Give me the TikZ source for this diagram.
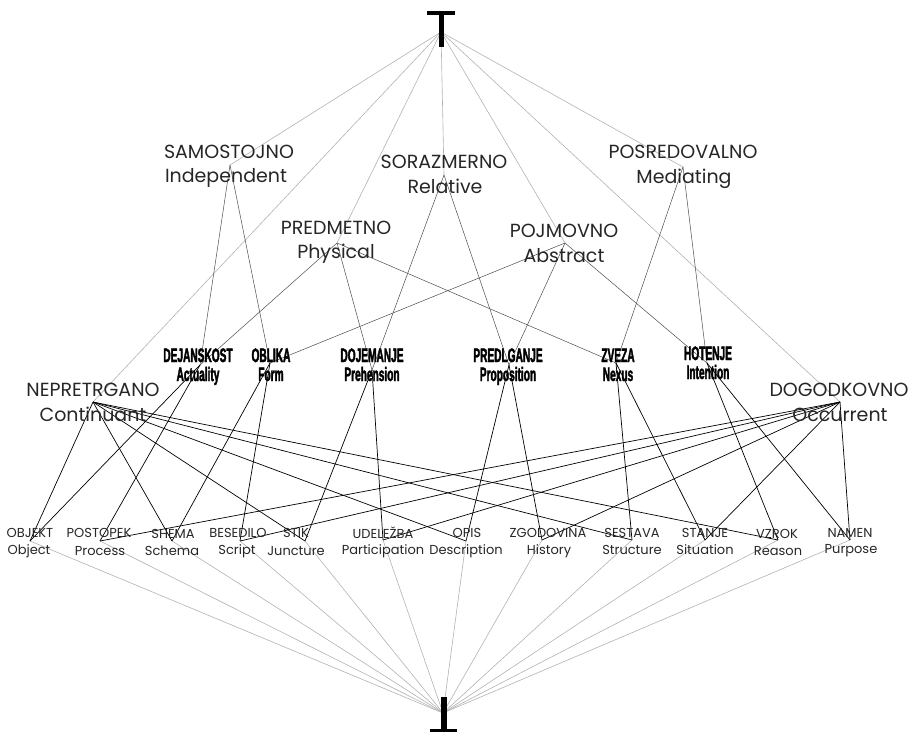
\documentclass[tikz,border=0pt]{standalone}
\usepackage{fontspec}
\setmainfont{Poppins}
\newfontfamily\condfont[FakeStretch=0.52,FakeBold=1.8]{Liberation Sans}
\tikzset{
 topline/.style={draw=black!30, line width=0.6pt},
 midline/.style={draw=black!70, line width=0.5pt},
 lowline/.style={draw=black, line width=0.7pt},
 lvtwo/.style={anchor=base, inner sep=0pt, font=\fontsize{19}{19}\selectfont, text=black!85},
 lvthree/.style={anchor=base, inner sep=0pt, font=\condfont\bfseries\fontsize{19.5}{19.5}\selectfont},
 lvfour/.style={anchor=base, inner sep=0pt, font=\fontsize{13}{13}\selectfont, text=black!85},
}
\begin{document}
\begin{tikzpicture}[x=1pt,y=-1pt]
\useasboundingbox (0,0) rectangle (921,732);
% junction points
\coordinate (top) at (441,32);
\coordinate (bot) at (443,713);
\coordinate (ind) at (230,165);
\coordinate (rel) at (444,175);
\coordinate (med) at (683,167);
\coordinate (phy) at (337,243);
\coordinate (abs) at (565,243);
\coordinate (con) at (93,402);
\coordinate (occ) at (840,402);
\coordinate (act) at (200,365);
\coordinate (frm) at (270,363);
\coordinate (pre) at (372,370);
\coordinate (pro) at (509,365);
\coordinate (nex) at (616,363);
\coordinate (int) at (707,363);
\coordinate (obj) at (30,541);
\coordinate (prc) at (100,541);
\coordinate (sch) at (172,541);
\coordinate (scr) at (240,541);
\coordinate (jun) at (305,541);
\coordinate (par) at (383,540);
\coordinate (des) at (466,541);
\coordinate (his) at (542,540);
\coordinate (str) at (632,540);
\coordinate (sit) at (705,540);
\coordinate (rea) at (778,540);
\coordinate (pur) at (850,540);
% top and bottom fans
\foreach \n in {ind,rel,med,phy,abs,con,occ} \draw[topline] (top) -- (\n);
\foreach \n in {obj,prc,sch,scr,jun,par,des,his,str,sit,rea,pur} \draw[topline] (\n) -- (bot);
% level 2 -> level 3
\draw[midline] (ind) -- (act); \draw[midline] (ind) -- (frm);
\draw[midline] (rel) -- (pre); \draw[midline] (rel) -- (pro);
\draw[midline] (med) -- (nex); \draw[midline] (med) -- (int);
\draw[midline] (phy) -- (act); \draw[midline] (phy) -- (pre); \draw[midline] (phy) -- (nex);
\draw[midline] (abs) -- (frm); \draw[midline] (abs) -- (pro); \draw[midline] (abs) -- (int);
% level 3 -> level 4
\draw[lowline] (act) -- (obj); \draw[lowline] (act) -- (prc);
\draw[lowline] (frm) -- (sch); \draw[lowline] (frm) -- (scr);
\draw[lowline] (pre) -- (jun); \draw[lowline] (pre) -- (par);
\draw[lowline] (pro) -- (des); \draw[lowline] (pro) -- (his);
\draw[lowline] (nex) -- (str); \draw[lowline] (nex) -- (sit);
\draw[lowline] (int) -- (rea); \draw[lowline] (int) -- (pur);
\foreach \n in {obj,sch,jun,des,str,rea} \draw[lowline] (con) -- (\n);
\foreach \n in {prc,scr,par,his,sit,pur} \draw[lowline] (occ) -- (\n);
% top and bottom symbols
\fill[black] (427,11) rectangle (455,15);
\fill[black] (438.5,11) rectangle (443.5,47);
\fill[black] (441,697) rectangle (446.5,732);
\fill[black] (430,728.5) rectangle (457,732);
% level 2 labels
\node[lvtwo] (indA) at (229,158) {SAMOSTOJNO};
\node[lvtwo] (indB) at (226,182) {Independent};
\node[lvtwo] (relA) at (444,168) {SORAZMERNO};
\node[lvtwo] (relB) at (445,193) {Relative};
\node[lvtwo] (medA) at (683,158) {POSREDOVALNO};
\node[lvtwo] (medB) at (684,183) {Mediating};
\node[lvtwo] (phyA) at (336,234) {PREDMETNO};
\node[lvtwo] (phyB) at (336,258) {Physical};
\node[lvtwo] (absA) at (564,237) {POJMOVNO};
\node[lvtwo] (absB) at (564,262) {Abstract};
\node[lvtwo] (conA) at (93,396) {NEPRETRGANO};
\node[lvtwo] (conB) at (93,421) {Continuant};
\node[lvtwo] (occA) at (839,396) {DOGODKOVNO};
\node[lvtwo] (occB) at (840,421) {Occurrent};
% level 3 labels
\node[lvthree] (actA) at (198,362) {DEJANSKOST};
\node[lvthree] (actB) at (198,381) {Actuality};
\node[lvthree] (frmA) at (271,362) {OBLIKA};
\node[lvthree] (frmB) at (271,381) {Form};
\node[lvthree] (preA) at (372,362) {DOJEMANJE};
\node[lvthree] (preB) at (372,381) {Prehension};
\node[lvthree] (proA) at (508,362) {PREDLGANJE};
\node[lvthree] (proB) at (508,381) {Proposition};
\node[lvthree] (nexA) at (618,362) {ZVEZA};
\node[lvthree] (nexB) at (618,381) {Nexus};
\node[lvthree] (intA) at (708,360) {HOTENJE};
\node[lvthree] (intB) at (708,379) {Intention};
% level 4 labels
\node[lvfour] (objA) at (30,537) {OBJEKT};
\node[lvfour] (objB) at (29,554) {Object};
\node[lvfour] (prcA) at (99,537) {POSTOPEK};
\node[lvfour] (prcB) at (100,555) {Process};
\node[lvfour] (schA) at (173,538) {SHEMA};
\node[lvfour] (schB) at (172,555) {Schema};
\node[lvfour] (scrA) at (238,537) {BESEDILO};
\node[lvfour] (scrB) at (237,554) {Script};
\node[lvfour] (junA) at (296,537) {STIK};
\node[lvfour] (junB) at (296,555) {Juncture};
\node[lvfour] (parA) at (383,538) {UDELEŽBA};
\node[lvfour] (parB) at (383,554) {Participation};
\node[lvfour] (desA) at (467,537) {OPIS};
\node[lvfour] (desB) at (466,554) {Description};
\node[lvfour] (hisA) at (548,537) {ZGODOVINA};
\node[lvfour] (hisB) at (549,554) {History};
\node[lvfour] (strA) at (632,537) {SESTAVA};
\node[lvfour] (strB) at (632,554) {Structure};
\node[lvfour] (sitA) at (705,537) {STANJE};
\node[lvfour] (sitB) at (705,554) {Situation};
\node[lvfour] (reaA) at (777,538) {VZROK};
\node[lvfour] (reaB) at (778,555) {Reason};
\node[lvfour] (purA) at (850,537) {NAMEN};
\node[lvfour] (purB) at (851,553) {Purpose};
\end{tikzpicture}
\end{document}
